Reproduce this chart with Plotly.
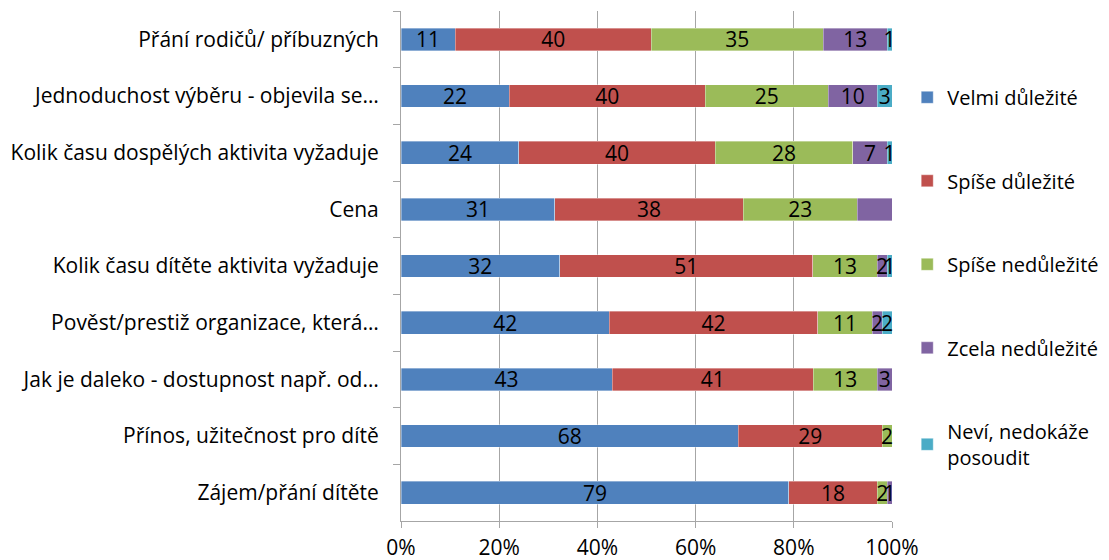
import plotly.graph_objects as go

categories = [
    "Přání rodičů/ příbuzných",
    "Jednoduchost výběru - objevila se…",
    "Kolik času dospělých aktivita vyžaduje",
    "Cena",
    "Kolik času dítěte aktivita vyžaduje",
    "Pověst/prestiž organizace, která…",
    "Jak je daleko - dostupnost např. od…",
    "Přínos, užitečnost pro dítě",
    "Zájem/přání dítěte",
]

series_names = [
    "Velmi důležité",
    "Spíše důležité",
    "Spíše nedůležité",
    "Zcela nedůležité",
    "Neví, nedokáže<br>posoudit",
]

velmi = [11, 22, 24, 31, 32, 42, 43, 68, 79]
spise_dulezite = [40, 40, 40, 38, 51, 42, 41, 29, 18]
spise_nedulezite = [35, 25, 28, 23, 13, 11, 13, 2, 2]
zcela = [13, 10, 7, 7, 2, 2, 3, None, 1]
nevi = [1, 3, 1, None, 1, 2, None, None, None]

colors = ["#4F81BD", "#C0504D", "#9BBB59", "#8064A2", "#4BACC6"]

FONT = "Open Sans"
FS = 21
LFS = 20

fig = go.Figure()
for i, (name, vals) in enumerate(zip(series_names,
                                     [velmi, spise_dulezite, spise_nedulezite, zcela, nevi])):
    fig.add_trace(go.Bar(
        y=categories,
        x=vals,
        name=name,
        orientation="h",
        marker=dict(color=colors[i], line=dict(color="rgba(255,255,255,0.6)", width=0.6)),
        text=[("" if v is None else str(v)) for v in vals],
        textposition="inside",
        insidetextanchor="middle",
        textangle=0,
        textfont=dict(family=FONT, size=FS, color="black"),
        cliponaxis=False,
        legendgroup=str(i),
        hoverinfo="x+y+name",
    ))

fig.update_layout(
    width=1101,
    height=552,
    barmode="stack",
    barnorm="percent",
    bargap=0.6,
    paper_bgcolor="white",
    plot_bgcolor="white",
    font=dict(family=FONT, size=FS, color="black"),
    margin=dict(l=393, r=217, t=3, b=39, autoexpand=False),
    uniformtext=dict(minsize=FS, mode="show"),
    legend=dict(
        x=1.031, y=0.869, xanchor="left", yanchor="top",
        traceorder="grouped",
        tracegroupgap=54.5,
        font=dict(family=FONT, size=LFS, color="black"),
        itemwidth=30,
    ),
    showlegend=True,
)

fig.update_xaxes(
    range=[0, 100],
    dtick=20,
    ticksuffix="%",
    showgrid=True,
    gridcolor="#A6A6A6",
    gridwidth=1,
    showline=True,
    linecolor="#A6A6A6",
    ticks="outside",
    ticklen=6,
    tickcolor="#A6A6A6",
    ticklabelstandoff=2,
    zeroline=False,
    automargin=False,
    tickfont=dict(family=FONT, size=FS, color="black"),
)

fig.update_yaxes(
    autorange="reversed",
    showline=True,
    linecolor="#A6A6A6",
    ticks="outside",
    tickson="boundaries",
    ticklen=7,
    tickcolor="#A6A6A6",
    ticklabelstandoff=17,
    showgrid=False,
    automargin=False,
    tickfont=dict(family=FONT, size=FS, color="black"),
)

fig.write_html("out.html")
